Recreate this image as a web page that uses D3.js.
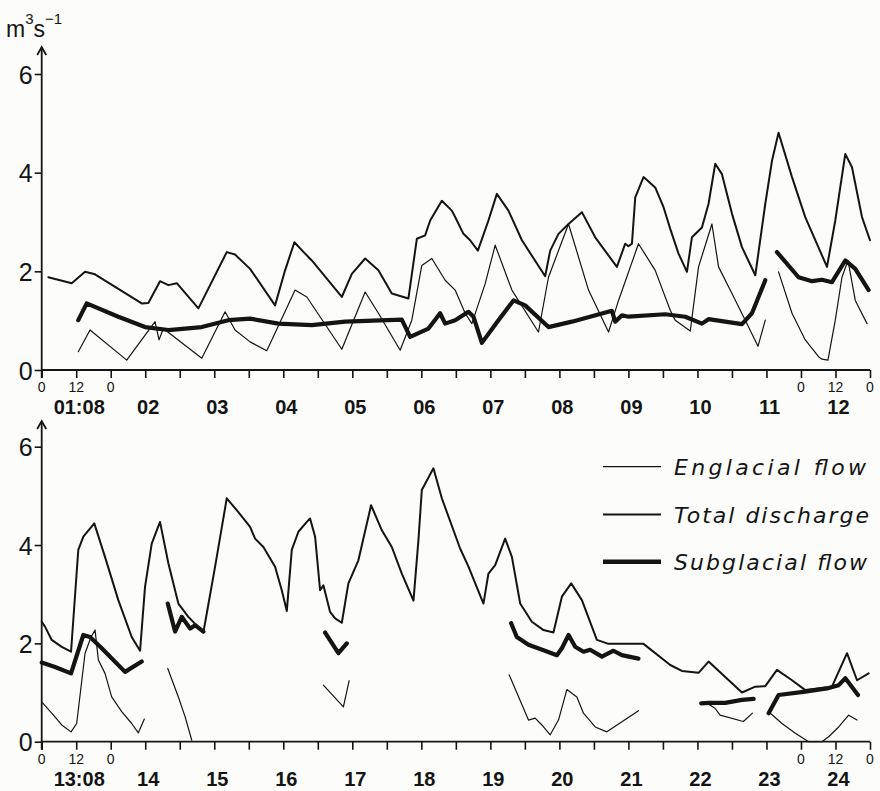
<!DOCTYPE html>
<html>
<head>
<meta charset="utf-8">
<script src="https://cdn.jsdelivr.net/npm/d3@7"></script>
<style>
  html, body { margin: 0; padding: 0; background: #fcfcfb; }
  svg { display: block; }
</style>
</head>
<body>
<div id="chart"></div>
<script>
// ---- data: [day of August (fractional), m3/s]; null = gap in the record ----
const topDays = ["01:08", "02", "03", "04", "05", "06", "07", "08", "09", "10", "11", "12"];
const bottomDays = ["13:08", "14", "15", "16", "17", "18", "19", "20", "21", "22", "23", "24"];
const hourLabels = ["0", "12", "0"];
const yTicks = [0, 2, 4, 6];
const legendLabels = ["Englacial flow", "Total discharge", "Subglacial flow"];

const topTotal = [
  [1.096, 1.88], [1.435, 1.76], [1.628, 1.99], [1.772, 1.94], [2.449, 1.35], [2.545, 1.36],
  [2.714, 1.80], [2.835, 1.72], [2.957, 1.76], [3.270, 1.25], [3.681, 2.39], [3.801, 2.34],
  [4.019, 2.05], [4.381, 1.31], [4.526, 2.02], [4.661, 2.59], [4.816, 2.36], [4.913, 2.22],
  [5.348, 1.48], [5.493, 1.95], [5.686, 2.26], [5.878, 2.02], [6.072, 1.55], [6.313, 1.45],
  [6.435, 2.66], [6.555, 2.73], [6.628, 3.03], [6.797, 3.43], [6.942, 3.23], [6.990, 3.10],
  [7.110, 2.76], [7.207, 2.63], [7.319, 2.42], [7.472, 3.03], [7.594, 3.57], [7.762, 3.23],
  [7.957, 2.63], [8.294, 1.90], [8.367, 2.42], [8.487, 2.76], [8.632, 2.96], [8.826, 3.20],
  [9.019, 2.69], [9.333, 2.09], [9.454, 2.56], [9.501, 2.51], [9.551, 2.56], [9.599, 3.50],
  [9.719, 3.91], [9.888, 3.70], [10.009, 3.30], [10.106, 2.86], [10.226, 2.36], [10.348, 1.99],
  [10.420, 2.69], [10.565, 2.89], [10.661, 3.37], [10.758, 4.18], [10.855, 3.97], [11.000, 3.17],
  [11.145, 2.49], [11.338, 1.92], [11.483, 3.37], [11.580, 4.24], [11.675, 4.81], [11.870, 3.91],
  [12.062, 3.10], [12.377, 2.09], [12.497, 3.03], [12.642, 4.38], [12.739, 4.11], [12.884, 3.10],
  [13.000, 2.63]
];
const topEnglacial = [
  [1.530, 0.37], [1.700, 0.81], [2.232, 0.20], [2.642, 0.98], [2.700, 0.61], [2.762, 0.84],
  [3.319, 0.24], [3.657, 1.18], [3.801, 0.81], [4.019, 0.57], [4.261, 0.39], [4.671, 1.62],
  [4.841, 1.48], [5.348, 0.42], [5.686, 1.58], [5.878, 1.15], [6.193, 0.40], [6.362, 1.01],
  [6.507, 2.12], [6.652, 2.26], [6.845, 1.82], [6.990, 1.62], [7.135, 1.15], [7.232, 0.94],
  [7.425, 1.75], [7.570, 2.53], [7.812, 1.62], [8.197, 0.77], [8.342, 1.88], [8.632, 2.96],
  [8.922, 1.62], [9.212, 0.77], [9.357, 1.41], [9.646, 2.56], [9.888, 2.02], [10.106, 1.21],
  [10.178, 1.01], [10.396, 0.79], [10.516, 2.09], [10.710, 2.96], [10.806, 2.09], [11.000, 1.55],
  [11.193, 1.01], [11.377, 0.48], [11.483, 1.01],
  null,
  [11.675, 1.99], [11.870, 1.15], [12.062, 0.61], [12.255, 0.27], [12.304, 0.22], [12.391, 0.20],
  [12.497, 1.01], [12.594, 1.88], [12.681, 2.22], [12.787, 1.41], [12.957, 0.94]
];
const topSubglacial = [
  [1.530, 1.01], [1.652, 1.35], [2.110, 1.08], [2.497, 0.87], [2.835, 0.81], [3.319, 0.87],
  [3.704, 1.01], [4.019, 1.04], [4.429, 0.94], [4.913, 0.91], [5.396, 0.98], [6.217, 1.02],
  [6.338, 0.67], [6.603, 0.84], [6.772, 1.15], [6.845, 0.94], [6.990, 1.01], [7.183, 1.18],
  [7.255, 1.08], [7.377, 0.55], [7.617, 1.01], [7.835, 1.41], [8.004, 1.31], [8.342, 0.87],
  [8.681, 0.98], [9.261, 1.20], [9.309, 0.98], [9.406, 1.11], [9.501, 1.08], [10.033, 1.13],
  [10.323, 1.08], [10.565, 0.94], [10.661, 1.03], [11.145, 0.93], [11.290, 1.15], [11.483, 1.82],
  null,
  [11.652, 2.39], [11.965, 1.88], [12.159, 1.80], [12.304, 1.83], [12.449, 1.78], [12.642, 2.22],
  [12.787, 2.05], [12.980, 1.62]
];

const bottomTotal = [
  [13.000, 2.44], [13.048, 2.34], [13.145, 2.07], [13.290, 1.93], [13.425, 1.83], [13.530, 3.90],
  [13.603, 4.17], [13.762, 4.44], [13.917, 3.76], [14.110, 2.88], [14.304, 2.13], [14.425, 1.85],
  [14.497, 3.15], [14.594, 4.03], [14.714, 4.47], [14.835, 3.63], [14.980, 2.81], [15.125, 2.54],
  [15.342, 2.22], [15.512, 3.56], [15.681, 4.95], [15.849, 4.67], [16.019, 4.37], [16.091, 4.13],
  [16.212, 3.96], [16.381, 3.56], [16.478, 3.08], [16.551, 2.66], [16.623, 3.90], [16.719, 4.27],
  [16.841, 4.47], [16.888, 4.54], [16.961, 4.17], [17.033, 3.08], [17.081, 3.18], [17.178, 2.64],
  [17.251, 2.51], [17.348, 2.42], [17.443, 3.22], [17.588, 3.69], [17.772, 4.81], [17.928, 4.30],
  [18.072, 3.96], [18.217, 3.42], [18.386, 2.87], [18.458, 4.10], [18.507, 5.12], [18.675, 5.56],
  [18.797, 4.95], [19.062, 3.93], [19.183, 3.56], [19.400, 2.81], [19.472, 3.42], [19.570, 3.59],
  [19.714, 4.13], [19.812, 3.76], [19.932, 2.81], [20.101, 2.44], [20.270, 2.27], [20.414, 2.22],
  [20.536, 2.95], [20.671, 3.22], [20.826, 2.88], [21.043, 2.07], [21.212, 1.99], [21.719, 1.99],
  [22.106, 1.56], [22.275, 1.44], [22.516, 1.40], [22.661, 1.63], [23.145, 1.00], [23.338, 1.12],
  [23.483, 1.13], [23.652, 1.46], [23.870, 1.25], [24.062, 1.05], [24.449, 1.12], [24.667, 1.80],
  [24.812, 1.25], [24.980, 1.39]
];
const bottomEnglacial = [
  [13.000, 0.81], [13.145, 0.58], [13.290, 0.34], [13.425, 0.20], [13.507, 0.37], [13.628, 1.80],
  [13.715, 2.13], [13.773, 2.27], [13.821, 1.66], [13.917, 1.39], [14.014, 0.91], [14.159, 0.61],
  [14.304, 0.37], [14.400, 0.18], [14.487, 0.46],
  null,
  [14.826, 1.49], [14.980, 0.91], [15.077, 0.51], [15.174, 0.03],
  null,
  [17.081, 1.15], [17.371, 0.71], [17.454, 1.24],
  null,
  [19.772, 1.36], [20.052, 0.44], [20.149, 0.48], [20.246, 0.34], [20.367, 0.14], [20.487, 0.44],
  [20.608, 1.06], [20.753, 0.91], [20.849, 0.58], [21.019, 0.30], [21.188, 0.20], [21.646, 0.63],
  null,
  [22.610, 0.81], [22.755, 0.68], [22.828, 0.54], [23.166, 0.41], [23.297, 0.58],
  null,
  [23.531, 0.61], [23.725, 0.37], [23.918, 0.17], [24.111, 0.00], [24.304, 0.00], [24.401, 0.10],
  [24.546, 0.30], [24.691, 0.54], [24.812, 0.44]
];
const bottomSubglacial = [
  [13.000, 1.61], [13.193, 1.52], [13.425, 1.39], [13.603, 2.17], [13.700, 2.13], [13.870, 1.90],
  [14.207, 1.42], [14.449, 1.63],
  null,
  [14.826, 2.81], [14.932, 2.24], [15.029, 2.54], [15.150, 2.30], [15.222, 2.37], [15.342, 2.24],
  null,
  [17.106, 2.22], [17.299, 1.80], [17.420, 2.00],
  null,
  [19.801, 2.41], [19.883, 2.13], [20.052, 1.97], [20.270, 1.86], [20.464, 1.76], [20.536, 1.90],
  [20.633, 2.17], [20.729, 1.93], [20.849, 1.83], [20.946, 1.87], [21.116, 1.73], [21.284, 1.85],
  [21.405, 1.76], [21.646, 1.69],
  null,
  [22.555, 0.78], [22.661, 0.79], [22.903, 0.79], [23.145, 0.85], [23.314, 0.87],
  null,
  [23.531, 0.58], [23.676, 0.95], [24.062, 1.02], [24.401, 1.09], [24.546, 1.15], [24.643, 1.29],
  [24.826, 0.95]
];

// ---- drawing ----
const W = 880, H = 791;
const INK = "#141414";
const X0 = 41.7, X1 = 870;

const svg = d3.select("#chart").append("svg")
  .attr("width", W).attr("height", H)
  .attr("viewBox", `0 0 ${W} ${H}`);

svg.append("rect").attr("width", W).attr("height", H).attr("fill", "#fcfcfb");

const numFont = "'Liberation Sans', Arial, sans-serif";

function panel(opts) {
  const x = d3.scaleLinear().domain([opts.start, opts.start + 12]).range([X0, X1]);
  const y = d3.scaleLinear().domain([0, 6]).range([opts.y0, opts.y6]);
  const g = svg.append("g");

  // y axis with arrow
  const yAxis = d3.axisLeft(y).tickValues(yTicks).tickSize(7).tickFormat(d3.format("d"));
  const ya = g.append("g").attr("transform", `translate(${X0},0)`).call(yAxis);
  ya.select(".domain").remove();
  ya.selectAll("line").attr("stroke", INK).attr("stroke-width", 1.6);
  ya.selectAll("text")
    .attr("x", -9).attr("dy", "0.36em")
    .attr("fill", INK).attr("font-size", 25).attr("font-family", numFont);
  g.append("line")
    .attr("x1", X0).attr("x2", X0).attr("y1", opts.y0 + 8).attr("y2", opts.arrowTip)
    .attr("stroke", INK).attr("stroke-width", 1.8);
  g.append("path")
    .attr("d", `M${X0 - 4.5},${opts.arrowTip + 8} L${X0},${opts.arrowTip} L${X0 + 4.5},${opts.arrowTip + 8}`)
    .attr("fill", "none").attr("stroke", INK).attr("stroke-width", 1.8);

  // x axis: a tick every 12 hours
  const halfDays = d3.range(0, 25).map(i => opts.start + i / 2);
  const xAxis = d3.axisBottom(x).tickValues(halfDays).tickSize(8).tickFormat("");
  const xa = g.append("g").attr("transform", `translate(0,${opts.y0})`).call(xAxis);
  xa.select(".domain").attr("stroke", INK).attr("stroke-width", 1.8).attr("d", `M${X0},0H${X1}`);
  xa.selectAll("line").attr("stroke", INK).attr("stroke-width", 1.6);

  // hour labels at both ends
  const hourPos = [opts.start, opts.start + 0.5, opts.start + 1,
                   opts.start + 11, opts.start + 11.5, opts.start + 12];
  const hourText = hourLabels.concat(hourLabels);
  g.selectAll(".hour").data(hourPos).join("text")
    .attr("x", d => x(d)).attr("y", opts.y0 + 22)
    .attr("text-anchor", "middle").attr("fill", INK)
    .attr("font-size", 14).attr("font-family", numFont)
    .text((d, i) => hourText[i]);

  // day labels centred on each day
  g.selectAll(".day").data(opts.days).join("text")
    .attr("x", (d, i) => x(opts.start + i + 0.5) + 3).attr("y", opts.y0 + 44)
    .attr("text-anchor", "middle").attr("fill", INK)
    .attr("font-size", 20).attr("font-weight", "bold").attr("font-family", numFont)
    .text(d => d);

  const line = d3.line().defined(d => d !== null).x(d => x(d[0])).y(d => y(d[1]));
  const series = [
    { data: opts.englacial, w: 1.2 },
    { data: opts.total, w: 2.0 },
    { data: opts.subglacial, w: 4.2 }
  ];
  g.selectAll(".series").data(series).join("path")
    .attr("d", s => line(s.data))
    .attr("fill", "none").attr("stroke", INK)
    .attr("stroke-width", s => s.w)
    .attr("stroke-linejoin", "round").attr("stroke-linecap", "round");
}

panel({ start: 1, y0: 370, y6: 74, arrowTip: 47, days: topDays,
        total: topTotal, englacial: topEnglacial, subglacial: topSubglacial });
panel({ start: 13, y0: 741.7, y6: 446.7, arrowTip: 421, days: bottomDays,
        total: bottomTotal, englacial: bottomEnglacial, subglacial: bottomSubglacial });

// unit label
const unit = svg.append("text").attr("x", 6).attr("y", 37)
  .attr("fill", INK).attr("font-size", 23).attr("font-family", numFont);
unit.append("tspan").text("m");
unit.append("tspan").attr("dy", -13).attr("font-size", 15).text("3");
unit.append("tspan").attr("dy", 13).text("s");
unit.append("tspan").attr("dy", -13).attr("font-size", 15).text("\u22121");

// legend
const legendY = [466.7, 514.5, 561.7];
const legendW = [1.3, 2.0, 4.6];
const legendLen = [192, 195, 193];
const lg = svg.append("g");
lg.selectAll("line").data(legendLabels).join("line")
  .attr("x1", 603).attr("x2", 661)
  .attr("y1", (d, i) => legendY[i]).attr("y2", (d, i) => legendY[i])
  .attr("stroke", INK).attr("stroke-width", (d, i) => legendW[i]);
lg.selectAll("text").data(legendLabels).join("text")
  .attr("x", 674).attr("y", (d, i) => legendY[i] + 8)
  .attr("fill", INK).attr("font-size", 22).attr("font-style", "italic")
  .attr("font-family", "'DejaVu Sans', sans-serif")
  .attr("textLength", (d, i) => legendLen[i]).attr("lengthAdjust", "spacing")
  .text(d => d);
</script>
</body>
</html>
